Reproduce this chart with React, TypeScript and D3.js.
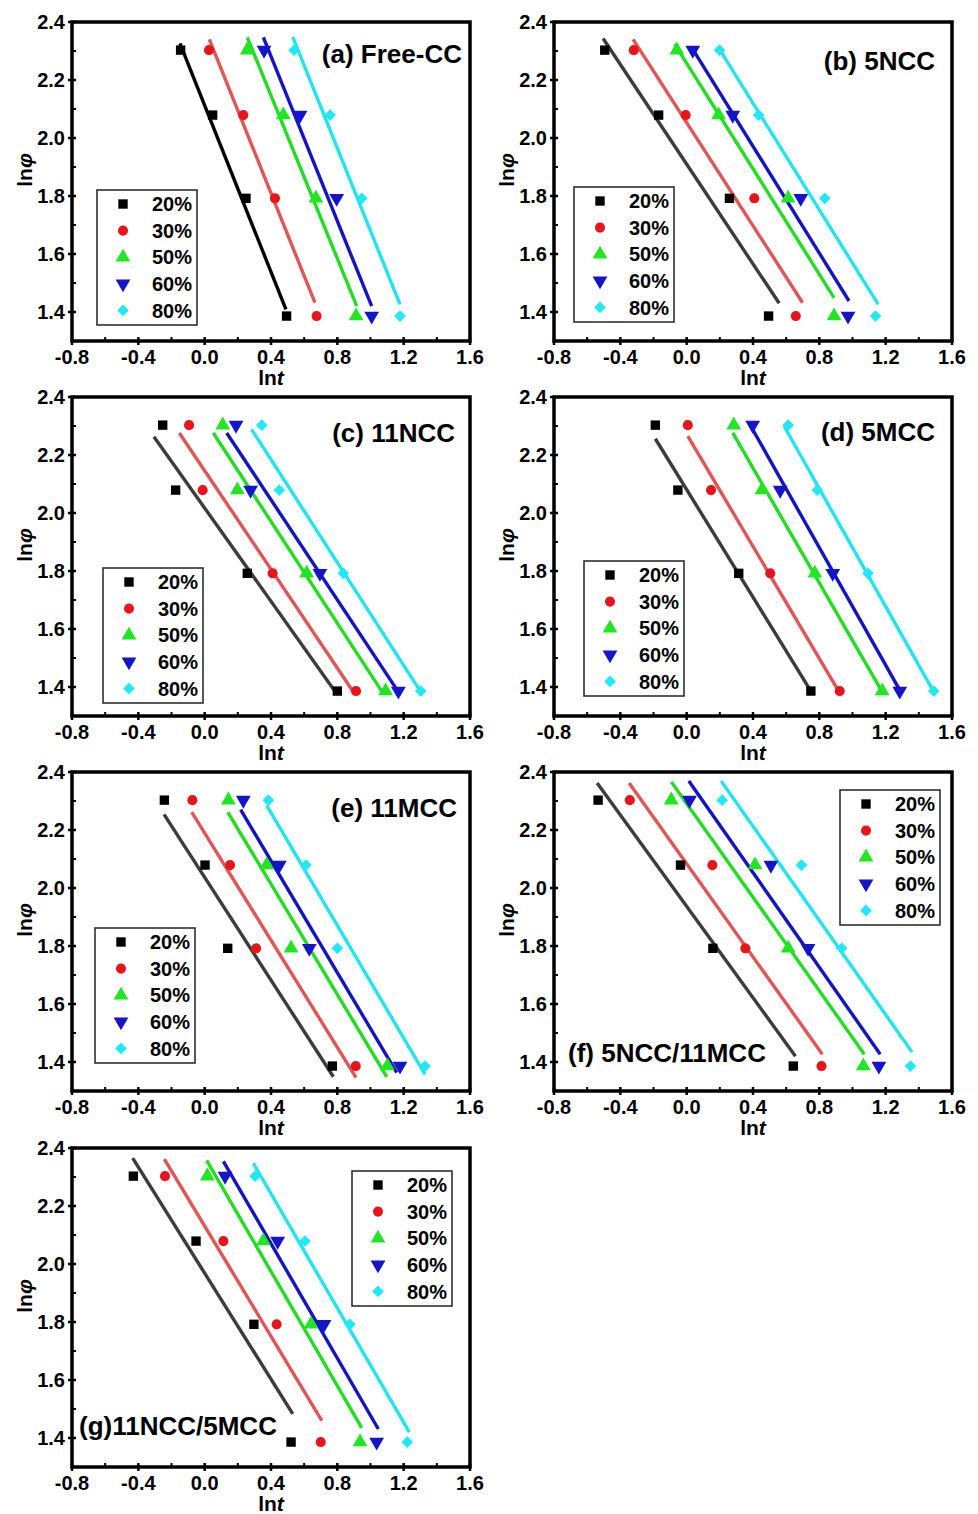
import React from 'react';
import * as d3 from 'd3';

// ln(phi) levels shared by every panel (ln10, ln8, ln6, ln4)
const LN_PHI = [2.303, 2.079, 1.792, 1.386];
const SERIES = ['20%', '30%', '50%', '60%', '80%'];
const X_TICKS = [-0.8, -0.4, 0.0, 0.4, 0.8, 1.2, 1.6];
const Y_TICKS = [1.4, 1.6, 1.8, 2.0, 2.2, 2.4];
const TITLES = ['(a) Free-CC', '(b) 5NCC', '(c) 11NCC', '(d) 5MCC', '(e) 11MCC', '(f) 5NCC/11MCC', '(g)11NCC/5MCC'];

// ln t values, one row per series (20, 30, 50, 60, 80 %)
const lnT_a = [
  [-0.145, 0.048, 0.249, 0.494],
  [0.026, 0.233, 0.424, 0.675],
  [0.257, 0.474, 0.671, 0.913],
  [0.358, 0.575, 0.796, 1.007],
  [0.539, 0.756, 0.947, 1.178],
];
const lnT_b = [
  [-0.494, -0.169, 0.258, 0.494],
  [-0.319, -0.006, 0.408, 0.658],
  [-0.059, 0.192, 0.612, 0.889],
  [0.037, 0.278, 0.688, 0.973],
  [0.198, 0.434, 0.833, 1.139],
];
const lnT_c = [
  [-0.253, -0.175, 0.257, 0.8],
  [-0.094, -0.012, 0.41, 0.913],
  [0.109, 0.197, 0.615, 1.091],
  [0.189, 0.277, 0.695, 1.168],
  [0.344, 0.45, 0.836, 1.303],
];
const lnT_d = [
  [-0.189, -0.053, 0.314, 0.749],
  [0.007, 0.147, 0.504, 0.923],
  [0.284, 0.454, 0.773, 1.179],
  [0.398, 0.564, 0.881, 1.285],
  [0.612, 0.788, 1.093, 1.49],
];
const lnT_e = [
  [-0.243, 0.002, 0.139, 0.77],
  [-0.074, 0.153, 0.31, 0.911],
  [0.143, 0.374, 0.521, 1.102],
  [0.233, 0.45, 0.631, 1.178],
  [0.384, 0.611, 0.8, 1.329],
];
const lnT_f = [
  [-0.534, -0.037, 0.158, 0.643],
  [-0.343, 0.155, 0.354, 0.813],
  [-0.093, 0.412, 0.612, 1.065],
  [0.017, 0.508, 0.732, 1.159],
  [0.214, 0.692, 0.935, 1.349],
];
const lnT_g = [
  [-0.43, -0.052, 0.297, 0.521],
  [-0.239, 0.113, 0.434, 0.7],
  [0.016, 0.354, 0.641, 0.937],
  [0.123, 0.44, 0.72, 1.037],
  [0.304, 0.605, 0.876, 1.222],
];

// fitted lines [x1, y1, x2, y2] in data units
const fit_a = [
  [-0.149, 2.326, 0.49, 1.409],
  [0.028, 2.34, 0.665, 1.432],
  [0.257, 2.347, 0.917, 1.42],
  [0.354, 2.347, 1.007, 1.42],
  [0.531, 2.349, 1.178, 1.426],
];
const fit_b = [
  [-0.504, 2.343, 0.558, 1.43],
  [-0.323, 2.34, 0.699, 1.432],
  [-0.073, 2.324, 0.889, 1.449],
  [0.027, 2.315, 0.979, 1.438],
  [0.188, 2.315, 1.155, 1.426],
];
const fit_c = [
  [-0.306, 2.263, 0.796, 1.377],
  [-0.153, 2.276, 0.897, 1.383],
  [0.052, 2.276, 1.077, 1.377],
  [0.133, 2.276, 1.168, 1.383],
  [0.283, 2.288, 1.303, 1.383],
];
const fit_d = [
  [-0.189, 2.256, 0.749, 1.386],
  [0.007, 2.265, 0.919, 1.383],
  [0.278, 2.276, 1.179, 1.383],
  [0.398, 2.288, 1.291, 1.383],
  [0.588, 2.299, 1.49, 1.383],
];
const fit_e = [
  [-0.245, 2.254, 0.776, 1.349],
  [-0.078, 2.262, 0.913, 1.346],
  [0.139, 2.262, 1.098, 1.349],
  [0.217, 2.27, 1.158, 1.363],
  [0.374, 2.285, 1.329, 1.357],
];
const fit_f = [
  [-0.54, 2.362, 0.656, 1.42],
  [-0.347, 2.362, 0.818, 1.427],
  [-0.093, 2.366, 1.071, 1.427],
  [0.013, 2.369, 1.167, 1.427],
  [0.208, 2.369, 1.359, 1.434],
];
const fit_g = [
  [-0.434, 2.365, 0.531, 1.483],
  [-0.243, 2.362, 0.706, 1.46],
  [0.012, 2.357, 0.947, 1.435],
  [0.113, 2.354, 1.047, 1.431],
  [0.293, 2.348, 1.234, 1.42],
];

const LN_T = [lnT_a, lnT_b, lnT_c, lnT_d, lnT_e, lnT_f, lnT_g];
const FITS = [fit_a, fit_b, fit_c, fit_d, fit_e, fit_f, fit_g];

// styling / layout
const MARKER_COLORS = ['#000000', '#e8141c', '#22e622', '#1414c8', '#22e8f5'];
const LINE_COLORS = ['#3c3c3c', '#e05555', '#22dd22', '#1414c0', '#22e4f0'];
const FONT = '"Liberation Sans", Arial, sans-serif';
const FRAME_W = 398;
const FRAME_H = 319;
const COL_X = [72, 554];
const ROW_Y = [22, 397, 772, 1148];

const layout = [
  { col: 0, row: 0, title: { anchor: 'end', dx: 390, dy: 41 }, legend: [25, 168], firstLine: '#000000' },
  { col: 1, row: 0, title: { anchor: 'end', dx: 381, dy: 48 }, legend: [20, 165] },
  { col: 0, row: 1, title: { anchor: 'end', dx: 383, dy: 45 }, legend: [31, 171] },
  { col: 1, row: 1, title: { anchor: 'end', dx: 381, dy: 44 }, legend: [30, 164] },
  { col: 0, row: 2, title: { anchor: 'end', dx: 385, dy: 45 }, legend: [23, 156] },
  { col: 1, row: 2, title: { anchor: 'start', dx: 14, dy: 290 }, legend: [286, 18] },
  { col: 0, row: 3, title: { anchor: 'start', dx: 7, dy: 287 }, legend: [280, 23] },
];

const fmt = (t: number) => t.toFixed(1);

const symbolPath = (i: number) => {
  if (i === 0) return { d: d3.symbol().type(d3.symbolSquare).size(88)()!, rot: 0 };
  if (i === 1) return { d: d3.symbol().type(d3.symbolCircle).size(80)()!, rot: 0 };
  if (i === 2) return { d: d3.symbol().type(d3.symbolTriangle).size(95)()!, rot: 0 };
  if (i === 3) return { d: d3.symbol().type(d3.symbolTriangle).size(95)()!, rot: 180 };
  return { d: d3.symbol().type(d3.symbolSquare).size(68)()!, rot: 45 };
};

const Marker = ({ i, x, y }: { i: number; x: number; y: number }) => {
  const s = symbolPath(i);
  return <path d={s.d} fill={MARKER_COLORS[i]} transform={`translate(${x},${y}) rotate(${s.rot})`} />;
};

const Panel = ({ idx }: { idx: number }) => {
  const L = layout[idx];
  const x0 = COL_X[L.col];
  const y0 = ROW_Y[L.row];
  const xs = d3.scaleLinear().domain([-0.8, 1.6]).range([x0, x0 + FRAME_W]);
  const ys = d3.scaleLinear().domain([1.3, 2.4]).range([y0 + FRAME_H, y0]);
  const minorX = d3.range(-0.6, 1.6, 0.4);
  const minorY = d3.range(1.3, 2.4, 0.2);
  const lx = x0 + L.legend[0];
  const ly = y0 + L.legend[1];

  return (
    <g>
      {/* fit lines */}
      {FITS[idx].map((f, s) => (
        <line
          key={'f' + s}
          x1={xs(f[0])}
          y1={ys(f[1])}
          x2={xs(f[2])}
          y2={ys(f[3])}
          stroke={s === 0 && L.firstLine ? L.firstLine : LINE_COLORS[s]}
          strokeWidth={3.4}
        />
      ))}
      {/* points */}
      {LN_T[idx].map((row, s) =>
        row.map((v, k) => <Marker key={`m${s}-${k}`} i={s} x={xs(v)} y={ys(LN_PHI[k])} />)
      )}
      {/* frame */}
      <rect x={x0} y={y0} width={FRAME_W} height={FRAME_H} fill="none" stroke="#000" strokeWidth={3.5} />
      {/* ticks */}
      {X_TICKS.map((t) => (
        <line key={'xt' + t} x1={xs(t)} x2={xs(t)} y1={y0 + FRAME_H - 4} y2={y0 + FRAME_H + 4} stroke="#000" strokeWidth={2.5} />
      ))}
      {minorX.map((t) => (
        <line key={'xm' + t} x1={xs(t)} x2={xs(t)} y1={y0 + FRAME_H - 4} y2={y0 + FRAME_H} stroke="#000" strokeWidth={2} />
      ))}
      {Y_TICKS.map((t) => (
        <line key={'yt' + t} x1={x0 - 4} x2={x0 + 4} y1={ys(t)} y2={ys(t)} stroke="#000" strokeWidth={2.5} />
      ))}
      {minorY.map((t) => (
        <line key={'ym' + t} x1={x0} x2={x0 + 4} y1={ys(t)} y2={ys(t)} stroke="#000" strokeWidth={2} />
      ))}
      {/* tick labels */}
      {X_TICKS.map((t) => (
        <text key={'xl' + t} x={xs(t)} y={y0 + FRAME_H + 23} textAnchor="middle" fontSize={20} fontWeight="bold" fontFamily={FONT}>
          {fmt(t)}
        </text>
      ))}
      {Y_TICKS.map((t) => (
        <text key={'yl' + t} x={x0 - 7} y={ys(t)} dy="0.36em" textAnchor="end" fontSize={20} fontWeight="bold" fontFamily={FONT}>
          {fmt(t)}
        </text>
      ))}
      {/* axis titles */}
      <text x={xs(0.4)} y={y0 + FRAME_H + 44} textAnchor="middle" fontSize={21} fontWeight="bold" fontFamily={FONT}>
        ln<tspan fontStyle="italic">t</tspan>
      </text>
      <text
        transform={`translate(${x0 - 40},${y0 + 148}) rotate(-90)`}
        textAnchor="middle"
        fontSize={21}
        fontWeight="bold"
        fontFamily={FONT}
      >
        ln<tspan fontStyle="italic">φ</tspan>
      </text>
      {/* panel title */}
      <text x={x0 + L.title.dx} y={y0 + L.title.dy} textAnchor={L.title.anchor} fontSize={26} fontWeight="bold" fontFamily={FONT}>
        {TITLES[idx]}
      </text>
      {/* legend */}
      <rect x={lx} y={ly} width={100} height={135} fill="#fff" stroke="#222" strokeWidth={1.5} />
      {SERIES.map((name, s) => (
        <g key={'lg' + s}>
          <Marker i={s} x={lx + 26} y={ly + 14 + s * 26.6} />
          <text x={lx + 55} y={ly + 14 + s * 26.6} dy="0.36em" fontSize={20} fontWeight="bold" fontFamily={FONT}>
            {name}
          </text>
        </g>
      ))}
    </g>
  );
};

export default function App() {
  return (
    <svg width={978} height={1514} style={{ position: 'absolute', left: 0, top: 0, background: '#fff' }}>
      <rect width={978} height={1514} fill="#fff" />
      {TITLES.map((_, i) => (
        <Panel key={i} idx={i} />
      ))}
    </svg>
  );
}
